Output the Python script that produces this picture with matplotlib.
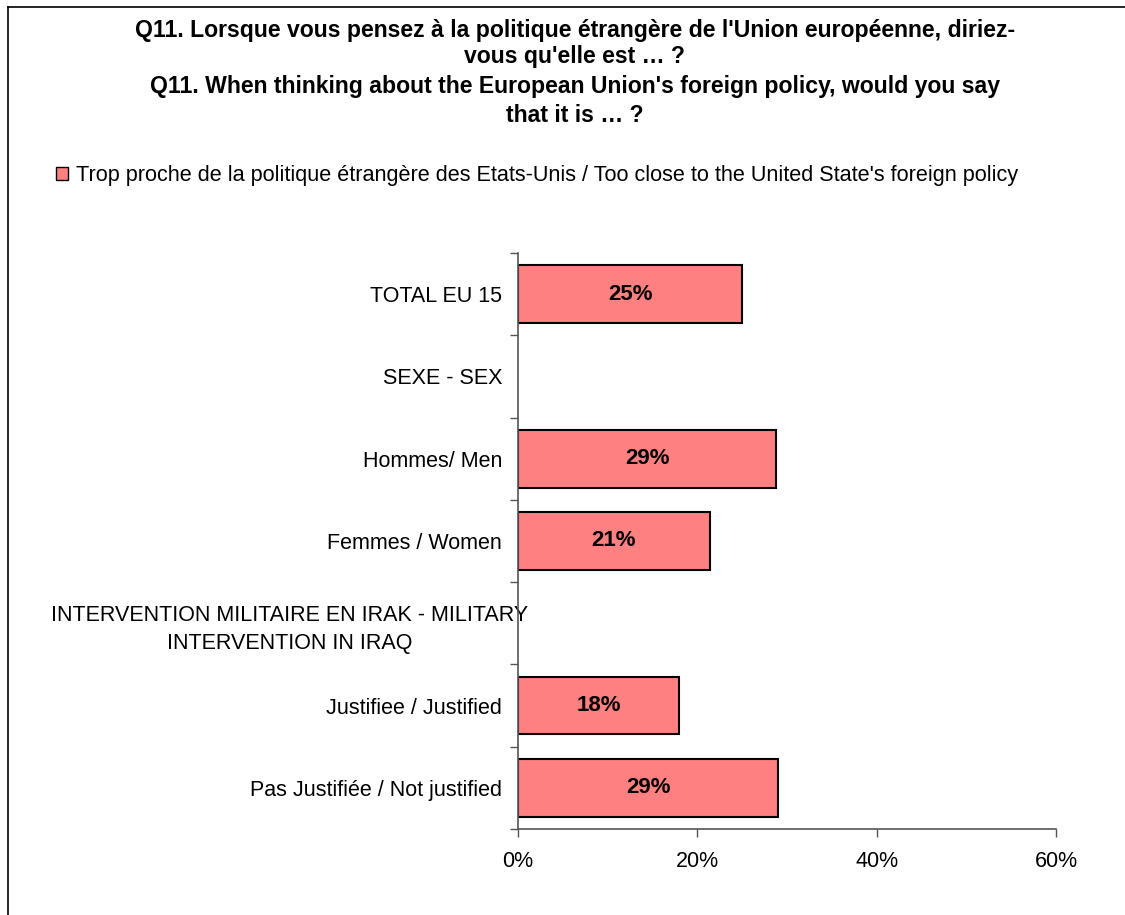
import matplotlib
matplotlib.use("Agg")
import matplotlib.pyplot as plt
import matplotlib.transforms as mtransforms
from matplotlib.patches import Patch
from matplotlib.lines import Line2D
import numpy as np

plt.rcParams.update({
    "font.family": ["Liberation Sans", "DejaVu Sans"],
    "font.size": 15.5,
})

# ─── Data ────────────────────────────────────────────────────────────────────
CATEGORIES = [
    "TOTAL EU 15",
    "SEXE - SEX",
    "Hommes/ Men",
    "Femmes / Women",
    "INTERVENTION MILITAIRE EN IRAK - MILITARY\nINTERVENTION IN IRAQ",
    "Justifiee / Justified",
    "Pas Justifiée / Not justified",
]
VALUES = [25.0, None, 28.8, 21.4, None, 18.0, 29.0]
VALUE_LABELS = ["25%", "", "29%", "21%", "", "18%", "29%"]
X_TICKS = [0, 20, 40, 60]
X_TICK_LABELS = ["0%", "20%", "40%", "60%"]

TITLE_LINES = [
    "Q11. Lorsque vous pensez à la politique étrangère de l'Union européenne, diriez-",
    "vous qu'elle est … ?",
    "Q11. When thinking about the European Union's foreign policy, would you say",
    "that it is … ?",
]
SERIES_LABEL = ("Trop proche de la politique étrangère des Etats-Unis / "
                "Too close to the United State's foreign policy")

BAR_COLOR = "#FF8080"
AXIS_COLOR = "#555555"

# ─── Figure ──────────────────────────────────────────────────────────────────
fig = plt.figure(figsize=(11.25, 9.15), dpi=100)
ax = fig.add_axes([518 / 1125, 1 - 829 / 915, 538 / 1125, 576 / 915])

ypos = np.arange(len(CATEGORIES))
for y, v, lab in zip(ypos, VALUES, VALUE_LABELS):
    if v is None:
        continue
    ax.barh(y, v, height=0.7, color=BAR_COLOR, edgecolor="black", linewidth=1.5)
    ax.text(v / 2, y, lab, ha="center", va="center",
            fontsize=16, fontweight="bold")

ax.set_xlim(0, 60)
ax.set_ylim(len(CATEGORIES) - 0.5, -0.5)
ax.set_xticks(X_TICKS)
ax.set_xticklabels(X_TICK_LABELS)
ax.set_yticks(ypos)
ax.set_yticklabels(CATEGORIES, multialignment="center", linespacing=1.45)
ax.set_yticks(np.arange(len(CATEGORIES) + 1) - 0.5, minor=True)

ax.tick_params(axis="y", which="major", length=0, pad=11.5)
ax.tick_params(axis="y", which="minor", length=6, direction="out",
               color=AXIS_COLOR, width=1)
ax.tick_params(axis="x", length=6, direction="out", color=AXIS_COLOR,
               width=1, pad=10)

# the wrapped Iraq label sits a little further right in the original
shift = mtransforms.ScaledTranslation(26 / 100, 0, fig.dpi_scale_trans)
iraq = ax.get_yticklabels()[4]
iraq.set_transform(iraq.get_transform() + shift)

for side in ("top", "right"):
    ax.spines[side].set_visible(False)
for side in ("left", "bottom"):
    ax.spines[side].set_color(AXIS_COLOR)
    ax.spines[side].set_linewidth(1.2)

# ─── Title ───────────────────────────────────────────────────────────────────
for line, ypix in zip(TITLE_LINES, [30, 57, 87, 115]):
    fig.text(575 / 1125, 1 - ypix / 915, line, ha="center", va="center",
             fontsize=16.6, fontweight="bold")

# ─── Legend ──────────────────────────────────────────────────────────────────
fig.legend(handles=[Patch(facecolor=BAR_COLOR, edgecolor="black",
                          linewidth=1.0, label=SERIES_LABEL)],
           loc="center left", bbox_to_anchor=(56 / 1125, 1 - 176 / 915),
           frameon=False, handlelength=0.55, handleheight=0.55,
           handletextpad=0.35, borderpad=0, borderaxespad=0, fontsize=15.6)

# ─── Chart-area border (left and top edges visible) ─────────────────────────
fig.add_artist(Line2D([8 / 1125, 8 / 1125], [0, 1 - 7 / 915],
                      transform=fig.transFigure, color="black", lw=1.2))
fig.add_artist(Line2D([8 / 1125, 1], [1 - 7 / 915, 1 - 7 / 915],
                      transform=fig.transFigure, color="black", lw=1.2))

fig.savefig("out.png", dpi=100)
